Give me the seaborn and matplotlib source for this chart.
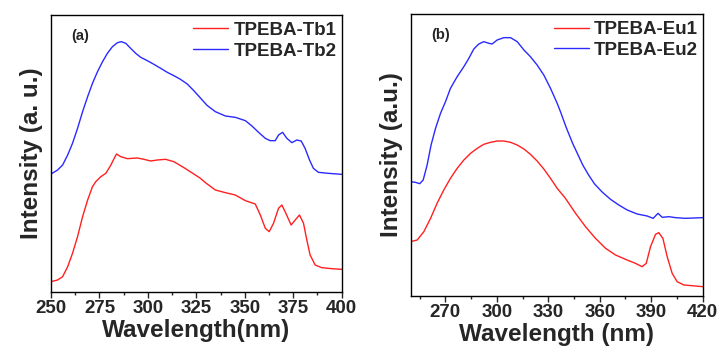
import numpy as np
import pandas as pd
import matplotlib
matplotlib.use("Agg")
import matplotlib.pyplot as plt
from matplotlib.ticker import MultipleLocator
import seaborn as sns

# ---------------- data (arbitrary intensity units) ----------------
tb2_wl = [250, 253.4, 256, 258.6, 261.1, 263.7, 266.3, 268.9, 271.4, 274, 276.6, 279.1,
          281.7, 284.3, 286.3, 288.6, 291.1, 293.7, 296.3, 299.7, 303.1, 306.6, 310,
          313.4, 316.8, 320.3, 323.7, 327.1, 330.5, 334.8, 340, 345.1, 350.3, 353.7,
          357.1, 360.6, 363.1, 365.7, 367.4, 369.5, 371.7, 374.3, 376.8, 379.1, 381.1,
          383.4, 385.4, 388, 393.1, 400]
tb2_int = [354, 366, 381, 411, 446, 491, 541, 586, 626, 661, 691, 716,
           736, 748, 751, 746, 731, 716, 704, 694, 683, 671, 659,
           649, 638, 624, 604, 582, 560, 541, 528, 524, 514, 498,
           479, 461, 454, 454, 471, 479, 461, 448, 456, 453, 431,
           396, 371, 359, 356, 353]

tb1_wl = [250, 253.4, 256, 258.6, 261.1, 263.7, 266.3, 268.9, 271.4, 273.1, 275.7, 278.3,
          280.9, 282.6, 283.8, 286, 289.4, 294.6, 298, 301.4, 304.8, 309.1, 313.4, 318.6,
          323.7, 327.1, 329.7, 334.8, 340, 345.1, 350.3, 355.4, 358, 360.6, 362.6, 364.8,
          367.4, 369.1, 371.2, 373.9, 376, 378.2, 380.3, 382, 383.7, 386.3, 389.7, 394.8, 400]
tb1_int = [31, 36, 46, 76, 116, 166, 226, 276, 316, 331, 346, 356,
           381, 401, 414, 406, 400, 402, 398, 393, 396, 398, 391, 373,
           354, 341, 328, 306, 298, 291, 274, 264, 231, 191, 181, 206,
           251, 261, 236, 201, 216, 231, 206, 156, 111, 81, 73, 70, 68]

eu2_wl = [249.7, 252.6, 255.1, 257.1, 259.4, 261.7, 264.3, 267.2, 270.1, 273, 276.9, 280.8,
          283.7, 286.6, 289.5, 292.4, 295.4, 297.3, 300.2, 304.1, 308, 311.9, 315.8, 319.6,
          323.5, 327.4, 331.3, 335.2, 337.1, 340.5, 344.2, 350.1, 353.5, 357, 361.4, 366.3,
          371.1, 376, 381.8, 387.6, 391.1, 394, 396.4, 400.3, 404.2, 410, 420]
eu2_int = [343, 341, 337, 348, 393, 453, 503, 548, 583, 623, 658, 688,
           713, 741, 756, 763, 758, 756, 768, 775, 775, 763, 738, 718,
           693, 663, 623, 578, 553, 505, 458, 393, 363, 336, 312, 290,
           273, 258, 246, 240, 233, 248, 236, 238, 235, 233, 235]

eu1_wl = [249.7, 253.6, 257.5, 261.4, 265.2, 269.1, 273, 276.9, 280.8, 284.7, 288.6, 292.4,
          296.3, 300.2, 304.1, 308, 311.9, 315.8, 319.6, 323.5, 327.4, 331.3, 335.2, 340,
          345.9, 351.7, 357.5, 363.4, 369.2, 375, 380.8, 384.7, 387.1, 389.6, 392.5, 394.4,
          396.8, 399.3, 402.2, 405.1, 409, 415.8, 420]
eu1_int = [163, 168, 193, 233, 278, 318, 353, 383, 408, 428, 443, 455,
           461, 465, 465, 461, 453, 441, 425, 405, 381, 353, 323, 293,
           248, 208, 173, 143, 123, 110, 98, 88, 98, 148, 185, 190,
           173, 118, 68, 43, 33, 30, 28]

labels_a = ["TPEBA-Tb1", "TPEBA-Tb2"]
labels_b = ["TPEBA-Eu1", "TPEBA-Eu2"]
xticks_a = [250, 275, 300, 325, 350, 375, 400]
xticks_b = [270, 300, 330, 360, 390, 420]

df_a = pd.concat([
    pd.DataFrame({"wl": tb1_wl, "I": tb1_int, "s": labels_a[0]}),
    pd.DataFrame({"wl": tb2_wl, "I": tb2_int, "s": labels_a[1]}),
], ignore_index=True)
df_b = pd.concat([
    pd.DataFrame({"wl": eu1_wl, "I": eu1_int, "s": labels_b[0]}),
    pd.DataFrame({"wl": eu2_wl, "I": eu2_int, "s": labels_b[1]}),
], ignore_index=True)

# ---------------- style ----------------
sns.set_style("ticks")
plt.rcParams["font.family"] = ["Liberation Sans", "DejaVu Sans"]
plt.rcParams["font.weight"] = "bold"

RED = "#ff2020"
BLUE = "#2a2aff"

fig = plt.figure(figsize=(7.24, 3.53), dpi=100)
W, H = 724, 353
ax_a = fig.add_axes([51 / W, 1 - 292 / H, (341.7 - 51) / W, (292 - 15) / H])
ax_b = fig.add_axes([411 / W, 1 - 296 / H, (702.7 - 411) / W, (296 - 14) / H])


def style(ax, df, labels, xlim, ylim, xticks, minor, xlabel, ylabel, tag):
    sns.lineplot(data=df, x="wl", y="I", hue="s", hue_order=labels,
                 palette=[RED, BLUE], sort=False, estimator=None,
                 linewidth=1.0, ax=ax)
    ax.set_xlim(*xlim)
    ax.set_ylim(*ylim)
    ax.set_xticks(xticks)
    ax.xaxis.set_minor_locator(MultipleLocator(minor))
    ax.set_yticks([])
    for sp in ax.spines.values():
        sp.set_visible(True)
        sp.set_linewidth(1.0)
        sp.set_color("black")
    ax.tick_params(axis="x", which="major", direction="out", length=4, width=1,
                   labelsize=13.5, pad=2, top=False)
    ax.tick_params(axis="x", which="minor", direction="out", length=2.5, width=1, top=False)
    for t in ax.get_xticklabels():
        t.set_fontweight("bold")
    ax.set_xlabel(xlabel, fontsize=17.5, fontweight="bold", labelpad=1)
    ax.set_ylabel(ylabel, fontsize=17.5, fontweight="bold", labelpad=6)
    ax.text(0.07, 0.925, tag, transform=ax.transAxes, fontsize=10.5,
            fontweight="bold", ha="left", va="center")
    leg = ax.legend(loc="upper left", bbox_to_anchor=(0.49, 0.975), frameon=False,
                    fontsize=13.5, handlelength=1.85, handletextpad=0.3,
                    labelspacing=0.2, borderpad=0, borderaxespad=0)
    for t in leg.get_texts():
        t.set_fontweight("bold")


style(ax_a, df_a, labels_a, (250, 400), (0, 831), xticks_a, 12.5,
      "Wavelength(nm)", "Intensity (a. u.)", "(a)")
style(ax_b, df_b, labels_b, (250, 420), (0, 846), xticks_b, 15,
      "Wavelength (nm)", "Intensity (a.u.)", "(b)")

fig.savefig("out.png", dpi=100)
